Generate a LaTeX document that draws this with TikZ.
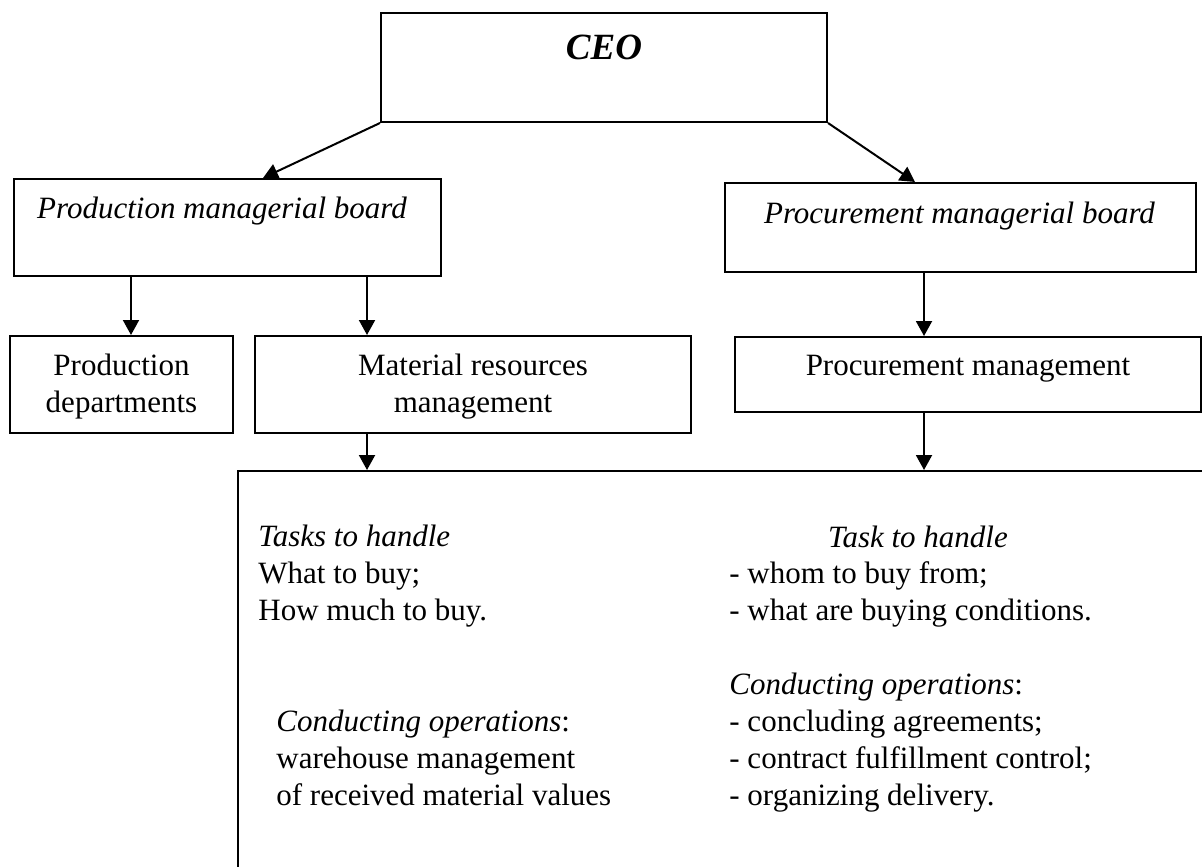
\documentclass[tikz,border=0pt]{standalone}
\usepackage{fontspec}
\setmainfont{Liberation Serif}
\usetikzlibrary{arrows.meta,fit}
\begin{document}
\begin{tikzpicture}[x=0.5pt,y=-0.5pt,
  box/.style={draw, line width=1pt, inner sep=0pt},
  lbl/.style={inner sep=0pt, font=\fontsize{15.5}{18.35}\selectfont},
  arr/.style={line width=1pt, -{Triangle[length=7.5pt,width=8pt]}}]
\useasboundingbox (0,0) rectangle (1202,866);
\clip (0,0) rectangle (1202,866);
% boxes
\node[box, fit={(381,13) (827,122)}] (ceo) {};
\node[box, fit={(14,179) (441,276)}] (pb) {};
\node[box, fit={(725,183) (1196,272)}] (qb) {};
\node[box, fit={(10,336) (233,433)}] (pd) {};
\node[box, fit={(255,336) (691,433)}] (mrm) {};
\node[box, fit={(735,337) (1201,412)}] (pm) {};
\node[box, fit={(238,471) (1260,920)}] (big) {};
% helper x positions
\coordinate (x263) at (263,0);
\coordinate (x915) at (915,0);
\coordinate (x131) at (131,0);
\coordinate (x367) at (367,0);
\coordinate (x924) at (924,0);
% connectors
\draw[arr] (ceo.south west) -- (pb.north -| x263);
\draw[arr] (ceo.south east) -- (qb.north -| x915);
\draw[arr] (pb.south -| x131) -- (pd.north -| x131);
\draw[arr] (pb.south -| x367) -- (mrm.north -| x367);
\draw[arr] (mrm.south -| x367) -- (big.north -| x367);
\draw[arr] (qb.south -| x924) -- (pm.north -| x924);
\draw[arr] (pm.south -| x924) -- (big.north -| x924);
% texts (base anchor of a multi-line node = baseline of its last line)
\node[lbl, font=\fontsize{18.5}{22}\selectfont\bfseries\itshape, anchor=base] (ceot) at (604,60) {CEO};
\node[lbl, font=\fontsize{15.5}{18.35}\selectfont\itshape, anchor=base] (pbt) at (222,218) {Production managerial board};
\node[lbl, font=\fontsize{15.5}{18.35}\selectfont\itshape, anchor=base] (qbt) at (959.5,223) {Procurement managerial board};
\node[lbl, align=center, anchor=base] (pdt) at (121.5,412) {Production\\departments};
\node[lbl, align=center, anchor=base] (mrmt) at (473,412) {Material resources\\management};
\node[lbl, anchor=base] (pmt) at (968,375) {Procurement management};
\node[lbl, align=left, anchor=base west] (t1) at (258,620) {\textit{Tasks to handle}\\What to buy;\\How much to buy.};
\node[lbl, align=left, anchor=base west] (t2) at (276,805) {\textit{Conducting operations}:\\warehouse management\\of received material values};
\node[lbl, font=\fontsize{15.5}{18.35}\selectfont\itshape, anchor=base] (t3) at (918,547) {Task to handle};
\node[lbl, align=left, anchor=base west] (t4) at (729,620) {- whom to buy from;\\- what are buying conditions.};
\node[lbl, align=left, anchor=base west] (t5) at (729,805) {\textit{Conducting operations}:\\- concluding agreements;\\- contract fulfillment control;\\- organizing delivery.};
\end{tikzpicture}
\end{document}
